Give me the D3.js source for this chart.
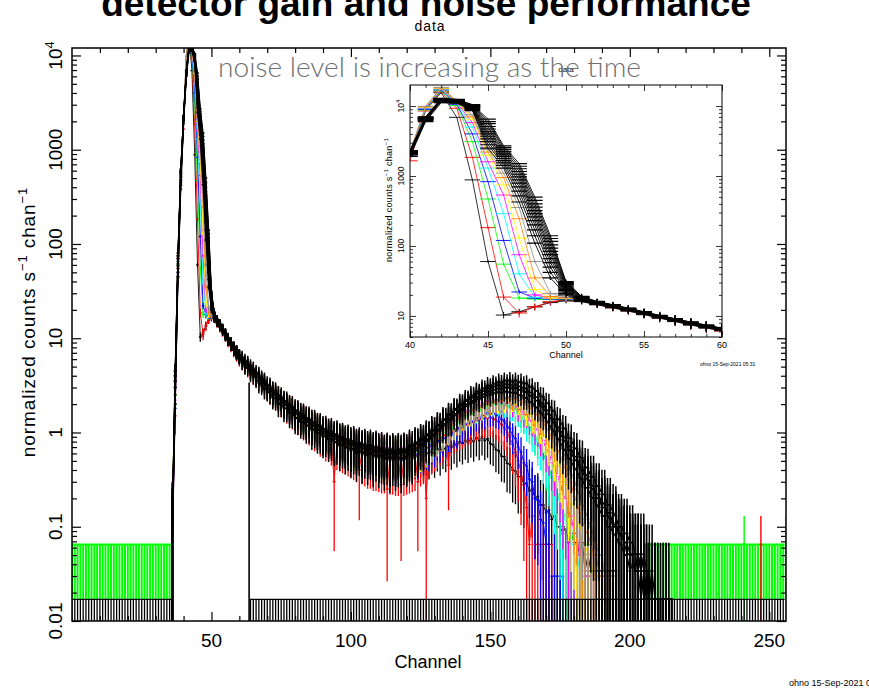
<!DOCTYPE html>
<html>
<head>
<meta charset="utf-8">
<script src="https://cdn.jsdelivr.net/npm/d3@7"></script>
<style>
  html, body { margin: 0; padding: 0; background: #fff; }
  svg { display: block; }
  text { font-family: "Liberation Sans", Arial, Helvetica, sans-serif; fill: #000; }
</style>
</head>
<body>
<svg id="chart" width="869" height="690"></svg>
<script>
// ---------------- data ----------------
// every spectrum array starts at this channel; 0 = empty channel
const firstChannel = 36;

// earliest spectrum (black) and the coloured ones that follow it
const spec01 = [0.1, 2, 45, 380, 2200, 9000, 15500, 6900, 880, 60,
  10.3, 11.5, 13.5, 15.5, 16.5, 16.0, 14.4, 13.0, 11.7, 10.4,
  9.3, 8.3, 7.4, 6.7, 6.1,
  5.6, 4.9, 4.8, 4.2, 4.1, 3.6, 3.5, 3.1, 3.05, 2.7,
  2.65, 2.35, 2.32, 2.1, 2.05, 1.85, 1.82, 1.64, 1.62, 1.45,
  1.45, 1.3, 1.32, 1.2, 1.2, 1.08, 1.1, 0.99, 1.0, 0.9,
  0.92, 0.84, 0.86, 0.79, 0.8, 0.74, 0.76, 0.7, 0.72, 0.66,
  0.68, 0.63, 0.65, 0.6, 0.63, 0.58, 0.62, 0.56, 0.6, 0.55,
  0.58, 0.53, 0.57, 0.52, 0.56, 0.51, 0.55, 0.51, 0.56, 0.52,
  0.57, 0.53, 0.58, 0.55, 0.6, 0.56, 0.62, 0.58, 0.65, 0.6,
  0.67, 0.62, 0.7, 0.66, 0.73, 0.69, 0.77, 0.72, 0.8, 0.76,
  0.83, 0.78, 0.86, 0.8, 0.88, 0.82, 0.9, 0.82, 0.86, 0.76,
  0.74, 0.66, 0.64, 0.56, 0.55, 0.47, 0.46, 0.4, 0.39, 0.34,
  0.34, 0.28, 0.29, 0.24, 0.25, 0.2, 0.21, 0.17, 0.17, 0.14,
  0.15, 0.12, 0.13, 0.1, 0.1, 0.085, 0.1, 0.068, 0.085, 0.068,
  0.068, 0.051, 0.068, 0.034, 0.051, 0.034, 0.034, 0, 0.034, 0,
  0, 0.034, 0, 0, 0];

const spec02 = [0.08, 1.5, 55, 420, 1650, 8500, 16000, 9300, 1850, 183,
  18.6, 11.0, 13.5, 16.0, 17.3, 16.4, 14.6, 13.1, 11.9, 10.6,
  9.4, 8.4, 7.5, 6.8, 6.1,
  5.6, 5.5, 4.8, 4.7, 4.1, 4.0, 3.6, 3.5, 3.1, 3.0,
  2.7, 2.7, 2.4, 2.4, 2.1, 2.1, 1.85, 1.85, 1.65, 1.65,
  1.48, 1.5, 1.34, 1.36, 1.22, 1.24, 1.1, 1.12, 1.0, 1.02,
  0.92, 0.95, 0.86, 0.3, 0.8, 0.78, 0.76, 0.74, 0.72, 0.7,
  0.68, 0.66, 0.4, 0.64, 0.62, 0.6, 0.6, 0.58, 0.58, 0.57,
  0.56, 0.56, 0.25, 0.55, 0.55, 0.54, 0.54, 0.28, 0.54, 0.55,
  0.56, 0.57, 0.58, 0.3, 0.62, 0.64, 0.2, 0.7, 0.74, 0.78,
  0.82, 0.86, 0.9, 0.95, 0.45, 1.0, 1.05, 1.1, 1.12, 1.15,
  1.2, 1.22, 1.26, 1.3, 1.34, 1.36, 1.4, 1.42, 1.42, 1.45,
  1.4, 1.36, 1.3, 1.22, 1.12, 1.0, 0.88, 0.75, 0.62, 0.5,
  0.38, 0.28, 0.16, 0.065, 0.13, 0, 0.065, 0, 0.065, 0,
  0, 0];

const spec03 = [0.12, 2.5, 60, 450, 1900, 8800, 16500, 10200, 3100, 470,
  55, 18, 17.5, 17.2, 17.5, 16.6, 15.0, 13.3, 12.0, 10.7,
  9.5, 8.5, 7.6, 6.9, 6.2,
  6.0, 5.5, 5.2, 4.7, 4.5, 4.1, 3.9, 3.5, 3.4, 3.05,
  2.95, 2.65, 2.6, 2.3, 2.3, 2.05, 2.05, 1.8, 1.8, 1.6,
  1.6, 1.45, 1.45, 1.3, 1.32, 1.2, 1.22, 1.08, 1.12, 0.98,
  1.02, 0.92, 0.96, 0.86, 0.9, 0.8, 0.84, 0.76, 0.8, 0.7,
  0.76, 0.68, 0.73, 0.65, 0.71, 0.62, 0.7, 0.6, 0.67, 0.58,
  0.64, 0.56, 0.62, 0.55, 0.61, 0.53, 0.6, 0.54, 0.6, 0.55,
  0.62, 0.57, 0.66, 0.62, 0.71, 0.67, 0.77, 0.74, 0.84, 0.8,
  0.92, 0.88, 1.0, 0.98, 1.1, 1.08, 1.22, 1.2, 1.36, 1.32,
  1.48, 1.44, 1.6, 1.56, 1.72, 1.68, 1.84, 1.8, 1.95, 1.9,
  2.02, 1.95, 2.05, 1.96, 2.02, 1.9, 1.92, 1.78, 1.76, 1.6,
  1.55, 1.38, 1.32, 1.14, 1.08, 0.9, 0.84, 0.68, 0.62, 0.48,
  0.44, 0.33, 0.3, 0.22, 0.2, 0.14, 0.13, 0.085, 0.09, 0.065,
  0.065, 0, 0.065, 0, 0];

const spec04 = [0.06, 1.8, 50, 470, 2000, 9000, 17000, 10600, 4000, 830,
  120, 22, 18, 17.4, 17.6, 16.8, 14.9, 13.4, 12.1, 10.8,
  9.6, 8.5, 7.6, 6.9, 6.2,
  5.9, 5.3, 5.1, 4.6, 4.4, 3.95, 3.8, 3.4, 3.3, 2.95,
  2.85, 2.55, 2.5, 2.25, 2.2, 1.98, 1.96, 1.76, 1.74, 1.56,
  1.55, 1.4, 1.42, 1.28, 1.3, 1.16, 1.18, 1.06, 1.08, 0.96,
  0.98, 0.9, 0.92, 0.84, 0.86, 0.78, 0.82, 0.74, 0.77, 0.7,
  0.73, 0.66, 0.7, 0.63, 0.68, 0.61, 0.66, 0.59, 0.64, 0.57,
  0.61, 0.55, 0.6, 0.53, 0.58, 0.52, 0.57, 0.52, 0.58, 0.53,
  0.58, 0.54, 0.61, 0.58, 0.65, 0.62, 0.7, 0.67, 0.76, 0.72,
  0.82, 0.78, 0.88, 0.86, 0.96, 0.94, 1.05, 1.02, 1.14, 1.12,
  1.24, 1.2, 1.34, 1.3, 1.44, 1.4, 1.53, 1.5, 1.62, 1.58,
  1.6, 1.55, 1.5, 1.38, 1.32, 1.16, 1.1, 0.92, 0.86, 0.7,
  0.62, 0.48, 0.44, 0.32, 0.3, 0.2, 0.19, 0.12, 0.11, 0.065,
  0.065, 0, 0.03, 0, 0, 0];

const spec05 = [0.15, 3, 65, 480, 2100, 9200, 17300, 10900, 5000, 1300,
  290, 40, 18.5, 17.6, 17.8, 16.9, 15.1, 13.5, 12.2, 10.9,
  9.7, 8.6, 7.7, 6.9, 6.3,
  5.8, 5.5, 5.0, 4.7, 4.3, 4.1, 3.7, 3.55, 3.2, 3.1,
  2.8, 2.7, 2.45, 2.35, 2.15, 2.08, 1.9, 1.84, 1.7, 1.64,
  1.5, 1.48, 1.36, 1.34, 1.25, 1.22, 1.14, 1.12, 1.04, 1.02,
  0.96, 0.95, 0.9, 0.89, 0.84, 0.83, 0.79, 0.79, 0.74, 0.75,
  0.7, 0.71, 0.67, 0.69, 0.64, 0.67, 0.62, 0.65, 0.6, 0.63,
  0.58, 0.62, 0.57, 0.61, 0.56, 0.6, 0.56, 0.61, 0.57, 0.63,
  0.6, 0.66, 0.64, 0.72, 0.7, 0.78, 0.76, 0.86, 0.84, 0.95,
  0.94, 1.05, 1.04, 1.16, 1.15, 1.28, 1.26, 1.4, 1.38, 1.52,
  1.5, 1.64, 1.6, 1.76, 1.7, 1.86, 1.8, 1.96, 1.88, 2.02,
  1.96, 2.06, 1.96, 2.04, 1.9, 1.94, 1.78, 1.78, 1.6, 1.58,
  1.4, 1.36, 1.18, 1.12, 0.96, 0.9, 0.74, 0.68, 0.54, 0.5,
  0.38, 0.34, 0.26, 0.22, 0.17, 0.14, 0.11, 0.085, 0.065, 0.065,
  0.03, 0.05, 0, 0.03, 0, 0];

const spec06 = [0.1, 2.2, 70, 500, 2150, 9400, 17600, 11200, 5800, 1600,
  535, 75, 20, 17.8, 17.9, 17.0, 15.2, 13.6, 12.3, 10.9,
  9.7, 8.6, 7.7, 7.0, 6.3,
  6.2, 5.5, 5.4, 4.7, 4.7, 4.0, 4.0, 3.5, 3.5, 3.0,
  3.0, 2.6, 2.65, 2.3, 2.35, 2.0, 2.1, 1.78, 1.85, 1.58,
  1.66, 1.42, 1.5, 1.3, 1.38, 1.17, 1.27, 1.08, 1.17, 0.98,
  1.08, 0.9, 1.02, 0.84, 0.95, 0.78, 0.9, 0.74, 0.86, 0.7,
  0.82, 0.66, 0.78, 0.64, 0.76, 0.6, 0.74, 0.58, 0.72, 0.56,
  0.7, 0.55, 0.69, 0.54, 0.68, 0.54, 0.68, 0.55, 0.7, 0.57,
  0.72, 0.6, 0.77, 0.66, 0.84, 0.72, 0.9, 0.8, 1.0, 0.88,
  1.1, 0.98, 1.2, 1.1, 1.34, 1.22, 1.48, 1.34, 1.6, 1.48,
  1.74, 1.6, 1.86, 1.72, 1.98, 1.84, 2.08, 1.94, 2.16, 2.02,
  2.22, 2.08, 2.24, 2.1, 2.2, 2.04, 2.1, 1.92, 1.96, 1.76,
  1.76, 1.56, 1.54, 1.34, 1.3, 1.1, 1.06, 0.88, 0.82, 0.66,
  0.62, 0.48, 0.44, 0.34, 0.3, 0.22, 0.2, 0.14, 0.13, 0.085,
  0.085, 0.05, 0.065, 0.03, 0.03, 0, 0.03, 0];

const spec07 = [0.2, 4, 75, 510, 2200, 9600, 17900, 11400, 6500, 2000,
  750, 130, 24, 18, 18.1, 17.1, 15.3, 13.7, 12.3, 11.0,
  9.8, 8.7, 7.8, 7.0, 6.3,
  5.7, 5.6, 4.9, 4.8, 4.2, 4.1, 3.6, 3.6, 3.1, 3.1,
  2.7, 2.72, 2.4, 2.42, 2.1, 2.14, 1.86, 1.9, 1.66, 1.7,
  1.48, 1.52, 1.34, 1.38, 1.22, 1.27, 1.12, 1.16, 1.02, 1.08,
  0.94, 1.0, 0.88, 0.94, 0.82, 0.88, 0.77, 0.83, 0.72, 0.79,
  0.69, 0.75, 0.66, 0.72, 0.63, 0.7, 0.61, 0.68, 0.59, 0.66,
  0.57, 0.64, 0.56, 0.63, 0.55, 0.62, 0.55, 0.62, 0.56, 0.63,
  0.58, 0.66, 0.61, 0.71, 0.66, 0.77, 0.72, 0.84, 0.79, 0.92,
  0.88, 1.02, 0.98, 1.13, 1.09, 1.25, 1.21, 1.38, 1.34, 1.51,
  1.47, 1.64, 1.6, 1.76, 1.72, 1.88, 1.83, 1.98, 1.93, 2.08,
  2.02, 2.16, 2.08, 2.22, 2.1, 2.24, 2.06, 2.16, 1.96, 2.02,
  1.8, 1.82, 1.6, 1.6, 1.38, 1.36, 1.16, 1.12, 0.94, 0.9,
  0.74, 0.68, 0.56, 0.5, 0.4, 0.36, 0.28, 0.24, 0.18, 0.16,
  0.12, 0.1, 0.085, 0.065, 0.05, 0.05, 0.03, 0, 0.03, 0];

const spec08 = [0.12, 3.5, 80, 520, 2150, 9800, 18200, 11600, 7000, 2200,
  950, 245, 35, 19, 18.3, 17.2, 15.4, 13.8, 12.4, 11.0,
  9.8, 8.7, 7.8, 7.0, 6.4,
  6.1, 5.4, 5.3, 4.6, 4.6, 3.95, 3.95, 3.4, 3.45, 2.95,
  3.0, 2.58, 2.64, 2.28, 2.34, 2.0, 2.08, 1.78, 1.86, 1.58,
  1.66, 1.42, 1.5, 1.28, 1.36, 1.16, 1.25, 1.06, 1.15, 0.97,
  1.06, 0.9, 0.98, 0.83, 0.92, 0.78, 0.87, 0.74, 0.83, 0.7,
  0.79, 0.67, 0.76, 0.64, 0.74, 0.62, 0.72, 0.6, 0.7, 0.58,
  0.68, 0.57, 0.67, 0.56, 0.66, 0.56, 0.66, 0.57, 0.67, 0.59,
  0.69, 0.62, 0.73, 0.67, 0.78, 0.73, 0.85, 0.8, 0.93, 0.88,
  1.02, 0.97, 1.12, 1.08, 1.24, 1.2, 1.36, 1.32, 1.5, 1.45,
  1.62, 1.58, 1.74, 1.7, 1.86, 1.82, 1.96, 1.92, 2.06, 2.02,
  2.16, 2.1, 2.24, 2.18, 2.3, 2.22, 2.32, 2.22, 2.28, 2.16,
  2.18, 2.02, 2.0, 1.82, 1.78, 1.58, 1.54, 1.34, 1.3, 1.1,
  1.04, 0.86, 0.8, 0.64, 0.6, 0.46, 0.42, 0.32, 0.29, 0.21,
  0.19, 0.14, 0.12, 0.09, 0.085, 0.065, 0.05, 0.05, 0.03, 0.03,
  0, 0.03, 0];

const spec09 = [0.1, 3, 75, 530, 2200, 9900, 18500, 11800, 7500, 2400,
  1100, 355, 60, 21, 18.6, 17.3, 15.5, 13.9, 12.5, 11.1,
  9.9, 8.8, 7.8, 7.1, 6.4,
  5.8, 5.7, 5.0, 4.9, 4.3, 4.2, 3.7, 3.65, 3.2, 3.15,
  2.8, 2.78, 2.45, 2.46, 2.15, 2.18, 1.9, 1.94, 1.7, 1.74,
  1.52, 1.56, 1.37, 1.41, 1.25, 1.3, 1.14, 1.19, 1.05, 1.1,
  0.97, 1.02, 0.9, 0.96, 0.84, 0.9, 0.79, 0.85, 0.74, 0.81,
  0.71, 0.77, 0.68, 0.74, 0.65, 0.72, 0.63, 0.7, 0.61, 0.68,
  0.59, 0.66, 0.58, 0.65, 0.57, 0.64, 0.57, 0.64, 0.58, 0.65,
  0.6, 0.68, 0.63, 0.73, 0.68, 0.79, 0.74, 0.86, 0.81, 0.94,
  0.9, 1.04, 1.0, 1.15, 1.11, 1.27, 1.23, 1.4, 1.36, 1.54,
  1.5, 1.68, 1.64, 1.8, 1.76, 1.92, 1.88, 2.04, 2.0, 2.15,
  2.1, 2.25, 2.2, 2.34, 2.28, 2.42, 2.32, 2.44, 2.32, 2.4,
  2.24, 2.28, 2.1, 2.1, 1.9, 1.88, 1.66, 1.64, 1.42, 1.38,
  1.18, 1.12, 0.94, 0.88, 0.72, 0.66, 0.52, 0.48, 0.36, 0.33,
  0.25, 0.22, 0.17, 0.15, 0.12, 0.1, 0.085, 0.065, 0.05, 0.05,
  0.03, 0.03, 0, 0.03, 0];

const earlySpectra = [spec01, spec02, spec03, spec04, spec05, spec06, spec07, spec08, spec09];
const earlyColors = ["#000000", "#ff0000", "#00ff00", "#0000ff", "#00ffff", "#ff00ff", "#ffff00", "#ff8000", "#8c8c8c"];
const earlyErrUnits = [0.12, 0.2, 0.12, 0.12, 0.12, 0.12, 0.12, 0.12, 0.12];
const earlyZeroLevels = [0.034, 0.065, 0.065, 0.03, 0.03, 0.03, 0.03, 0.03, 0.03];

// later spectra (all black): channels 36-60
const lateHeads = [
  [0.1, 2, 45, 420, 1900, 6000, 11200, 11000, 8600, 2500, 1300, 425, 110, 35, 20, 16.2, 14.6, 13.2, 11.9, 10.6, 9.4, 8.4, 7.5, 6.8, 6.2],
  [0.12, 3, 55, 450, 2000, 6200, 11600, 11300, 8800, 2800, 1420, 520, 140, 42, 21, 16.5, 14.8, 13.4, 12.1, 10.7, 9.6, 8.5, 7.6, 6.9, 6.3],
  [0.07, 2.5, 50, 480, 2100, 6400, 11900, 11600, 9000, 3100, 1540, 610, 170, 50, 22, 16.8, 15.0, 13.5, 12.0, 10.9, 9.5, 8.6, 7.7, 7.0, 6.3],
  [0.15, 3.5, 60, 510, 2050, 6300, 12200, 11800, 9200, 3400, 1660, 700, 200, 58, 23, 17.0, 15.2, 13.7, 12.3, 11.0, 9.7, 8.7, 7.8, 7.0, 6.4],
  [0.1, 4, 58, 530, 2150, 6500, 12000, 12000, 9400, 3700, 1780, 790, 230, 66, 24, 17.3, 15.3, 13.8, 12.4, 10.9, 9.8, 8.8, 7.8, 7.1, 6.4],
  [0.12, 3, 65, 550, 2200, 6600, 12400, 11700, 9500, 4000, 1900, 880, 260, 75, 25, 17.5, 15.4, 13.9, 12.5, 11.1, 9.9, 8.8, 7.9, 7.1, 6.5],
  [0.08, 3.5, 70, 570, 2100, 6700, 12600, 12100, 9700, 4300, 2000, 970, 290, 84, 26, 17.8, 15.5, 14.0, 12.4, 11.2, 9.9, 8.9, 7.9, 7.2, 6.5],
  [0.15, 4, 62, 580, 2250, 6800, 12300, 12200, 9800, 4700, 2120, 1060, 320, 93, 27, 18.0, 15.7, 14.1, 12.6, 11.2, 10.0, 8.9, 8.0, 7.2, 6.5],
  [0.12, 4.5, 75, 560, 2300, 6900, 12800, 12300, 10000, 5100, 2250, 1160, 360, 104, 28, 18.3, 15.8, 14.2, 12.7, 11.3, 10.0, 9.0, 8.0, 7.3, 6.6],
  [0.09, 3.5, 70, 600, 2200, 6700, 12500, 12400, 10200, 5600, 2400, 1270, 400, 116, 29, 18.6, 15.9, 14.3, 12.7, 11.3, 10.1, 9.0, 8.1, 7.3, 6.6],
  [0.14, 4, 80, 590, 2300, 7000, 12900, 12300, 10300, 6000, 2550, 1380, 450, 128, 30, 18.8, 16.0, 14.4, 12.8, 11.4, 10.1, 9.1, 8.1, 7.4, 6.6],
  [0.11, 4.5, 75, 620, 2250, 6900, 12700, 12500, 10500, 6500, 2700, 1500, 500, 140, 31, 19.0, 16.1, 14.5, 12.9, 11.5, 10.2, 9.1, 8.2, 7.4, 6.7]
];

// later spectra continued from channel 61 (first four of lateHeads)
const lateTails = [
  [5.5, 5.0, 4.8, 4.2, 4.0, 3.8, 3.3, 3.3, 2.9, 2.8,
   2.6, 2.35, 2.3, 2.0, 2.0, 1.8, 1.8, 1.6, 1.6, 1.42,
   1.4, 1.3, 1.29, 1.18, 1.18, 1.05, 1.08, 0.98, 0.98, 0.9,
   0.92, 0.84, 0.86, 0.78, 0.8, 0.72, 0.75, 0.68, 0.72, 0.64,
   0.68, 0.6, 0.66, 0.58, 0.63, 0.57, 0.62, 0.55, 0.6, 0.54,
   0.58, 0.52, 0.57, 0.5, 0.56, 0.52, 0.55, 0.5, 0.57, 0.55,
   0.6, 0.58, 0.66, 0.64, 0.73, 0.72, 0.82, 0.8, 0.93, 0.92,
   1.05, 1.04, 1.2, 1.18, 1.36, 1.35, 1.55, 1.5, 1.72, 1.7,
   1.9, 1.88, 2.08, 2.05, 2.26, 2.22, 2.42, 2.36, 2.55, 2.5,
   2.65, 2.58, 2.72, 2.63, 2.76, 2.64, 2.73, 2.6, 2.66, 2.5,
   2.52, 2.34, 2.33, 2.12, 2.1, 1.87, 1.82, 1.6, 1.54, 1.32,
   1.26, 1.08, 1.02, 0.86, 0.82, 0.68, 0.64, 0.53, 0.5, 0.42,
   0.4, 0.33, 0.32, 0.26, 0.26, 0.21, 0.2, 0.17, 0.16, 0.13,
   0.13, 0.1, 0.1, 0.085, 0.08, 0.068, 0.064, 0.05, 0.05, 0.034,
   0.04, 0.034, 0.034, 0.017, 0.034, 0.017, 0.017, 0, 0.017, 0,
   0, 0.017, 0, 0, 0],
  [5.9, 5.3, 5.1, 4.5, 4.4, 3.9, 3.8, 3.4, 3.3, 2.9,
   2.9, 2.55, 2.5, 2.25, 2.2, 1.98, 1.95, 1.75, 1.74, 1.56,
   1.56, 1.4, 1.42, 1.28, 1.3, 1.16, 1.18, 1.06, 1.08, 0.96,
   1.0, 0.9, 0.94, 0.85, 0.88, 0.79, 0.83, 0.75, 0.79, 0.71,
   0.75, 0.67, 0.72, 0.65, 0.7, 0.63, 0.68, 0.61, 0.66, 0.59,
   0.64, 0.57, 0.63, 0.56, 0.62, 0.56, 0.62, 0.57, 0.64, 0.59,
   0.65, 0.62, 0.7, 0.68, 0.77, 0.75, 0.86, 0.84, 0.97, 0.95,
   1.1, 1.09, 1.25, 1.23, 1.42, 1.4, 1.6, 1.58, 1.8, 1.78,
   2.0, 1.97, 2.18, 2.16, 2.4, 2.35, 2.58, 2.52, 2.75, 2.68,
   2.88, 2.8, 2.98, 2.88, 3.04, 2.92, 3.05, 2.9, 3.0, 2.82,
   2.87, 2.68, 2.7, 2.46, 2.45, 2.2, 2.16, 1.9, 1.84, 1.6,
   1.54, 1.32, 1.26, 1.06, 1.01, 0.84, 0.8, 0.66, 0.63, 0.52,
   0.5, 0.42, 0.39, 0.33, 0.31, 0.26, 0.25, 0.2, 0.2, 0.16,
   0.16, 0.13, 0.12, 0.1, 0.1, 0.085, 0.08, 0.068, 0.051, 0.051,
   0.05, 0.034, 0.051, 0.034, 0.017, 0.034, 0.017, 0.017, 0, 0.017,
   0, 0, 0.017, 0, 0],
  [6.2, 5.6, 5.4, 4.8, 4.6, 4.2, 4.0, 3.6, 3.45, 3.1,
   3.0, 2.7, 2.62, 2.4, 2.3, 2.1, 2.05, 1.86, 1.82, 1.66,
   1.62, 1.5, 1.48, 1.36, 1.36, 1.24, 1.24, 1.13, 1.14, 1.04,
   1.04, 0.97, 0.98, 0.91, 0.92, 0.85, 0.86, 0.8, 0.82, 0.76,
   0.78, 0.72, 0.75, 0.7, 0.72, 0.67, 0.7, 0.65, 0.68, 0.63,
   0.66, 0.61, 0.65, 0.6, 0.64, 0.6, 0.64, 0.61, 0.66, 0.63,
   0.7, 0.67, 0.76, 0.74, 0.84, 0.82, 0.93, 0.92, 1.05, 1.04,
   1.18, 1.17, 1.36, 1.34, 1.54, 1.52, 1.74, 1.72, 1.95, 1.92,
   2.16, 2.14, 2.38, 2.34, 2.6, 2.54, 2.8, 2.72, 2.98, 2.9,
   3.12, 3.02, 3.24, 3.1, 3.3, 3.15, 3.32, 3.12, 3.26, 3.05,
   3.12, 2.9, 2.94, 2.66, 2.66, 2.38, 2.36, 2.06, 2.02, 1.74,
   1.68, 1.42, 1.37, 1.14, 1.1, 0.92, 0.88, 0.72, 0.7, 0.56,
   0.55, 0.45, 0.43, 0.36, 0.34, 0.28, 0.27, 0.22, 0.22, 0.17,
   0.18, 0.14, 0.14, 0.1, 0.11, 0.085, 0.085, 0.068, 0.068, 0.051,
   0.051, 0.051, 0.034, 0.051, 0.034, 0.017, 0.034, 0.017, 0.017, 0,
   0.017, 0, 0, 0.017, 0],
  [6.4, 5.9, 5.6, 5.1, 4.8, 4.4, 4.2, 3.8, 3.6, 3.25,
   3.15, 2.84, 2.76, 2.5, 2.42, 2.2, 2.15, 1.96, 1.9, 1.74,
   1.7, 1.57, 1.55, 1.43, 1.42, 1.3, 1.3, 1.19, 1.19, 1.09,
   1.1, 1.02, 1.03, 0.95, 0.97, 0.89, 0.9, 0.84, 0.86, 0.8,
   0.82, 0.76, 0.79, 0.73, 0.76, 0.71, 0.74, 0.69, 0.72, 0.67,
   0.69, 0.64, 0.68, 0.63, 0.67, 0.63, 0.67, 0.64, 0.68, 0.65,
   0.74, 0.71, 0.8, 0.77, 0.87, 0.85, 0.97, 0.95, 1.09, 1.06,
   1.22, 1.2, 1.4, 1.38, 1.58, 1.56, 1.8, 1.78, 2.02, 2.0,
   2.24, 2.22, 2.5, 2.45, 2.74, 2.66, 2.98, 2.9, 3.18, 3.08,
   3.34, 3.22, 3.5, 3.36, 3.6, 3.44, 3.64, 3.42, 3.6, 3.38,
   3.5, 3.26, 3.34, 3.04, 3.08, 2.76, 2.78, 2.44, 2.4, 2.08,
   2.02, 1.72, 1.68, 1.4, 1.36, 1.12, 1.09, 0.88, 0.86, 0.69,
   0.67, 0.55, 0.54, 0.43, 0.42, 0.34, 0.34, 0.27, 0.27, 0.22,
   0.22, 0.17, 0.17, 0.14, 0.13, 0.1, 0.1, 0.085, 0.085, 0.068,
   0.068, 0.051, 0.051, 0.034, 0.051, 0.034, 0.017, 0.034, 0.017, 0.017,
   0, 0.017, 0.017, 0, 0]
];
const lateErrUnit = 0.15;
const lateZeroLevel = 0.017;

// empty-channel upper limits drawn as hatched bands
const greenEmptyLevel = 0.065;
const greenEmptyRanges = [[0, 35], [206, 255]];
const blackEmptyLevel = 0.017;
const blackEmptyRanges = [[0, 35], [64, 255]];

// isolated single-count channels at high energy
const greenSingles = [[241, 0.065], [256, 0.065]];
const redSingles = [[247, 0.065]];

// step where one black spectrum stops
const cutEdge = 63.5;
const cutLevel = 3.4;

// axis ticks and labels
const xTickValues = [50, 100, 150, 200, 250];
const yTickValues = [0.01, 0.1, 1, 10, 100, 1000, 10000];
const yTickLabels = ["0.01", "0.1", "1", "10", "100", "1000", "10^4"];
const insetXTicks = [40, 45, 50, 55, 60];
const insetYTicks = [10, 100, 1000, 10000];
const insetYLabels = ["10", "100", "1000", "10^4"];

// ---------------- drawing ----------------
const svg = d3.select("#chart");
svg.append("rect").attr("width", 869).attr("height", 690).attr("fill", "#fff");

const x = d3.scaleLinear().domain([0, 256]).range([72, 786]);
const y = d3.scaleLog().domain([0.01, 12000]).range([621, 48]);

const ix = d3.scaleLinear().domain([40, 60]).range([410, 722]);
const iy = d3.scaleLog().domain([5, 20000]).range([337, 85]);

const defs = svg.append("defs");
defs.append("clipPath").attr("id", "clip-main").append("rect")
  .attr("x", 72).attr("y", 48).attr("width", 714).attr("height", 573);
defs.append("clipPath").attr("id", "clip-inset").append("rect")
  .attr("x", 410).attr("y", 85).attr("width", 312).attr("height", 252);

// one spectrum: connecting line, bin-width caps and error bars
function drawSpectrum(layer, xs, ys, vals, color, errUnit, zeroLevel, chMin, chMax, lw, lineW) {
  const yBottom = ys.range()[0] + 3;
  const yFloor = ys.domain()[0];
  const pts = [];
  vals.forEach((v, i) => {
    const ch = firstChannel + i;
    if (ch >= chMin && ch <= chMax) pts.push([ch, v]);
  });
  const line = d3.line().defined(d => d[1] > 0).x(d => xs(d[0])).y(d => ys(d[1]));
  layer.append("path").attr("d", line(pts))
    .attr("fill", "none").attr("stroke", color).attr("stroke-width", lineW)
    .attr("stroke-linejoin", "round");
  let d = "";
  pts.forEach(([ch, v]) => {
    const x0 = xs(ch - 0.5), x1 = xs(ch + 0.5), xc = xs(ch);
    if (v > 0) {
      const e = Math.sqrt(v * errUnit);
      const yv = ys(v);
      const lo = v - e > yFloor ? ys(v - e) : yBottom;
      const hi = ys(v + e);
      d += `M${x0},${yv}H${x1}M${xc},${lo}V${hi}`;
    } else {
      const yz = ys(zeroLevel);
      d += `M${x0},${yz}H${x1}M${xc},${yz}V${yBottom}`;
    }
  });
  layer.append("path").attr("d", d)
    .attr("fill", "none").attr("stroke", color).attr("stroke-width", lw);
}

// hatched band of empty channels (upper limits down to the axis floor)
function drawEmptyBand(layer, ranges, level, floorY, color, lw) {
  let d = "";
  ranges.forEach(([a, b]) => {
    for (let ch = a; ch <= b; ch++) {
      d += `M${x(ch - 0.5)},${y(level)}H${x(ch + 0.5)}M${x(ch)},${y(level)}V${floorY}`;
    }
  });
  layer.append("path").attr("d", d).attr("fill", "none")
    .attr("stroke", color).attr("stroke-width", lw);
}

function drawSingles(layer, items, color, lw) {
  let d = "";
  items.forEach(([ch, v]) => {
    d += `M${x(ch - 0.5)},${y(v)}H${x(ch + 0.5)}M${x(ch)},${y(2 * v)}V${y.range()[0] + 3}`;
  });
  layer.append("path").attr("d", d).attr("fill", "none")
    .attr("stroke", color).attr("stroke-width", lw);
}

// ---- main panel data ----
const main = svg.append("g").attr("clip-path", "url(#clip-main)");
const bottomY = y.range()[0] + 3;

earlySpectra.forEach((vals, k) => {
  drawSpectrum(main, x, y, vals, earlyColors[k], earlyErrUnits[k], earlyZeroLevels[k], 0, 256, 1.3, 0.9);
  if (k === 2) drawEmptyBand(main, greenEmptyRanges, greenEmptyLevel, y(blackEmptyLevel), "#00ff00", 2.0);
});
drawSingles(main, greenSingles, "#00ff00", 1.4);
drawSingles(main, redSingles, "#ff0000", 1.4);

lateHeads.forEach((head, k) => {
  const vals = lateTails[k] ? head.concat(lateTails[k]) : head;
  drawSpectrum(main, x, y, vals, "#000000", lateErrUnit, lateZeroLevel, 0, 256, 1.5, 1.2);
});
drawEmptyBand(main, blackEmptyRanges, blackEmptyLevel, bottomY, "#000000", 1.3);
main.append("line")
  .attr("x1", x(cutEdge)).attr("x2", x(cutEdge))
  .attr("y1", y(cutLevel)).attr("y2", bottomY)
  .attr("stroke", "#000").attr("stroke-width", 1.6);

// ---- main panel frame and ticks ----
function tickLayer(gen, transform, size, lw) {
  const g = svg.append("g").attr("transform", transform).call(gen.tickSize(size).tickFormat(""));
  g.select(".domain").remove();
  g.selectAll("line").attr("stroke", "#000").attr("stroke-width", lw);
  return g;
}
const xMinor = d3.range(10, 256, 10).filter(v => v % 50 !== 0);
const yMinor = [];
[-2, -1, 0, 1, 2, 3].forEach(p => [2, 3, 4, 5, 6, 7, 8, 9].forEach(m => yMinor.push(m * Math.pow(10, p))));
const yMinorIn = yMinor.filter(v => v < 12000);

tickLayer(d3.axisBottom(x).tickValues(xTickValues), "translate(0,621)", -9, 1.2);
tickLayer(d3.axisBottom(x).tickValues(xMinor), "translate(0,621)", -5, 1.2);
tickLayer(d3.axisTop(x).tickValues(xTickValues), "translate(0,48)", -9, 1.2);
tickLayer(d3.axisTop(x).tickValues(xMinor), "translate(0,48)", -5, 1.2);
tickLayer(d3.axisLeft(y).tickValues(yTickValues), "translate(72,0)", -9, 1.2);
tickLayer(d3.axisLeft(y).tickValues(yMinorIn), "translate(72,0)", -5, 1.2);
tickLayer(d3.axisRight(y).tickValues(yTickValues), "translate(786,0)", -9, 1.2);
tickLayer(d3.axisRight(y).tickValues(yMinorIn), "translate(786,0)", -5, 1.2);

svg.append("rect").attr("x", 72).attr("y", 48).attr("width", 714).attr("height", 573)
  .attr("fill", "none").attr("stroke", "#000").attr("stroke-width", 1.5);

// tick labels
svg.append("g").selectAll("text").data(xTickValues).join("text")
  .attr("x", d => x(d)).attr("y", 647).attr("text-anchor", "middle")
  .attr("font-size", 19).text(d => d);

function powerLabel(sel, label, supSize, shift) {
  if (label.includes("^")) {
    const [b, p] = label.split("^");
    sel.append("tspan").text(b);
    sel.append("tspan").attr("dy", -shift).attr("font-size", supSize).text(p);
  } else {
    sel.text(label);
  }
}
yTickValues.forEach((v, i) => {
  const t = svg.append("text")
    .attr("transform", `translate(62,${y(v)}) rotate(-90)`)
    .attr("text-anchor", "middle").attr("font-size", 19);
  powerLabel(t, yTickLabels[i], 13, 8);
});

svg.append("text").attr("x", 428).attr("y", 668).attr("text-anchor", "middle")
  .attr("font-size", 18).text("Channel");

const yTitle = svg.append("text")
  .attr("transform", "translate(35,322) rotate(-90)")
  .attr("text-anchor", "middle").attr("font-size", 19).attr("letter-spacing", 0.9);
yTitle.append("tspan").text("normalized counts s");
yTitle.append("tspan").attr("dy", -8).attr("font-size", 13).text("−1");
yTitle.append("tspan").attr("dy", 8).text(" chan");
yTitle.append("tspan").attr("dy", -8).attr("font-size", 13).text("−1");

svg.append("text").attr("x", 789).attr("y", 686).attr("font-size", 9)
  .text("ohno 15-Sep-2021 05:31");

// ---- inset: zoom on channels 40-60 ----
svg.append("rect").attr("x", 378).attr("y", 58).attr("width", 388).attr("height", 310).attr("fill", "#fff");
const inset = svg.append("g").attr("clip-path", "url(#clip-inset)");
earlySpectra.forEach((vals, k) => {
  drawSpectrum(inset, ix, iy, vals, earlyColors[k], earlyErrUnits[k], earlyZeroLevels[k], 40, 60, 0.9, 0.8);
});
lateHeads.forEach(head => {
  drawSpectrum(inset, ix, iy, head, "#000000", lateErrUnit, lateZeroLevel, 40, 60, 1.2, 0.9);
});

const ixMinor = d3.range(41, 60).filter(v => v % 5 !== 0);
const iyMinor = [];
[0, 1, 2, 3].forEach(p => [2, 3, 4, 5, 6, 7, 8, 9].forEach(m => iyMinor.push(m * Math.pow(10, p))));
const iyMinorIn = iyMinor.filter(v => v >= 5 && v <= 20000);
tickLayer(d3.axisBottom(ix).tickValues(insetXTicks), "translate(0,337)", -6, 0.8);
tickLayer(d3.axisBottom(ix).tickValues(ixMinor), "translate(0,337)", -3, 0.8);
tickLayer(d3.axisTop(ix).tickValues(insetXTicks), "translate(0,85)", -6, 0.8);
tickLayer(d3.axisTop(ix).tickValues(ixMinor), "translate(0,85)", -3, 0.8);
tickLayer(d3.axisLeft(iy).tickValues(insetYTicks), "translate(410,0)", -6, 0.8);
tickLayer(d3.axisLeft(iy).tickValues(iyMinorIn), "translate(410,0)", -3, 0.8);
tickLayer(d3.axisRight(iy).tickValues(insetYTicks), "translate(722,0)", -6, 0.8);
tickLayer(d3.axisRight(iy).tickValues(iyMinorIn), "translate(722,0)", -3, 0.8);
svg.append("rect").attr("x", 410).attr("y", 85).attr("width", 312).attr("height", 252)
  .attr("fill", "none").attr("stroke", "#000").attr("stroke-width", 1);

svg.append("g").selectAll("text").data(insetXTicks).join("text")
  .attr("x", d => ix(d)).attr("y", 348).attr("text-anchor", "middle")
  .attr("font-size", 9).text(d => d);
insetYTicks.forEach((v, i) => {
  const t = svg.append("text")
    .attr("transform", `translate(404,${iy(v)}) rotate(-90)`)
    .attr("text-anchor", "middle").attr("font-size", 8.5);
  powerLabel(t, insetYLabels[i], 6, 4);
});
svg.append("text").attr("x", 566).attr("y", 358).attr("text-anchor", "middle")
  .attr("font-size", 9).text("Channel");
const iyTitle = svg.append("text")
  .attr("transform", "translate(392,200) rotate(-90)")
  .attr("text-anchor", "middle").attr("font-size", 9).attr("letter-spacing", 0.3);
iyTitle.append("tspan").text("normalized counts s");
iyTitle.append("tspan").attr("dy", -4).attr("font-size", 6).text("−1");
iyTitle.append("tspan").attr("dy", 4).text(" chan");
iyTitle.append("tspan").attr("dy", -4).attr("font-size", 6).text("−1");
svg.append("text").attr("x", 566).attr("y", 72).attr("text-anchor", "middle")
  .attr("font-size", 8).text("data");
svg.append("text").attr("x", 700).attr("y", 366).attr("font-size", 5)
  .text("ohno 15-Sep-2021 05:31");

// ---- headings ----
svg.append("text").attr("x", 430).attr("y", 31).attr("text-anchor", "middle")
  .attr("font-size", 14).attr("letter-spacing", 1).text("data");
svg.append("text").attr("x", 426).attr("y", 16).attr("text-anchor", "middle")
  .attr("font-size", 37).attr("font-weight", "bold")
  .text("detector gain and noise performance");
svg.append("text").attr("x", 218).attr("y", 77)
  .attr("font-size", 27).attr("font-weight", 300)
  .attr("textLength", 423).attr("lengthAdjust", "spacingAndGlyphs")
  .style("font-family", "Lato, 'Open Sans', 'Liberation Sans', sans-serif")
  .style("fill", "#707070")
  .text("noise level is increasing as the time");
</script>
</body>
</html>
